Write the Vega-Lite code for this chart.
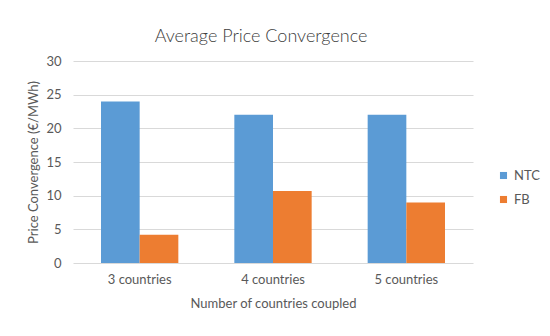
{
  "$schema": "https://vega.github.io/schema/vega-lite/v6.json",
  "width": 400,
  "height": 202,
  "autosize": "none",
  "padding": {"left": 73, "top": 61, "right": 77, "bottom": 73},
  "background": "white",
  "title": {"text": "Average Price Convergence", "fontSize": 18, "font": "Lato", "fontWeight": 300, "color": "#404040", "offset": 9, "dx": -12},
  "data": {"values": [
    {"group": "3 countries", "series": "NTC", "value": 24},
    {"group": "3 countries", "series": "FB", "value": 4.2},
    {"group": "4 countries", "series": "NTC", "value": 22},
    {"group": "4 countries", "series": "FB", "value": 10.7},
    {"group": "5 countries", "series": "NTC", "value": 22},
    {"group": "5 countries", "series": "FB", "value": 9.0}
  ]},
  "mark": {"type": "bar"},
  "encoding": {
    "x": {"field": "group", "type": "nominal", "title": "Number of countries coupled",
      "scale": {"paddingInner": 0.42, "paddingOuter": 0.21},
      "axis": {"labelAngle": 0, "ticks": false, "domain": false, "labelPadding": 10, "titlePadding": 11}},
    "xOffset": {"field": "series", "sort": ["NTC", "FB"], "scale": {"paddingInner": 0}},
    "y": {"field": "value", "type": "quantitative", "title": "Price Convergence (€/MWh)",
      "scale": {"domain": [0, 30]},
      "axis": {"values": [0, 5, 10, 15, 20, 25, 30], "ticks": false, "domain": false, "labelPadding": 12, "titlePadding": 5, "gridColor": "#d9d9d9"}},
    "color": {"field": "series", "type": "nominal", "sort": ["NTC", "FB"],
      "scale": {"domain": ["NTC", "FB"], "range": ["#5b9bd5", "#ed7d31"]},
      "legend": {"title": null, "orient": "none", "legendX": 424, "legendY": 108, "symbolType": "square", "symbolSize": 50, "rowPadding": 10, "labelFontSize": 13, "labelColor": "#595959", "labelFont": "Lato"}}
  },
  "config": {
    "view": {"stroke": null},
    "axis": {"labelFont": "Lato", "titleFont": "Lato", "labelFontSize": 13, "titleFontSize": 13, "titleFontWeight": "normal", "labelColor": "#595959", "titleColor": "#595959"}
  }
}
